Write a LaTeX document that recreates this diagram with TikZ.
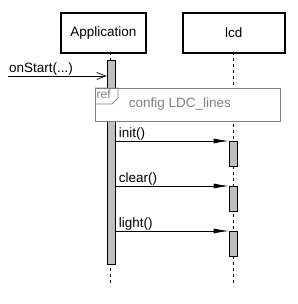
\documentclass[tikz,border=0pt]{standalone}
\usepackage{fontspec}
\setmainfont{Liberation Sans}
\usetikzlibrary{arrows.meta,positioning}

\begin{document}
\begin{tikzpicture}[x=1pt, y=-1pt,
  font=\fontsize{13.5}{15}\selectfont,
  obj/.style={draw, line width=1.7pt, minimum height=40pt, inner sep=0pt, anchor=north west},
  life/.style={dash pattern=on 3pt off 3pt, line width=0.6pt},
  act/.style={draw, fill=black!25, minimum width=8pt, inner sep=0pt, anchor=north, line width=0.7pt},
  msg/.style={-{Latex[length=15pt,width=5pt]}, line width=0.7pt},
  found/.style={-{Straight Barb[length=9pt,width=7pt]}, line width=0.7pt},
  lbl/.style={anchor=south west, inner sep=1pt},
  reframe/.style={draw=black!50, fill=white, line width=0.9pt, inner sep=0pt, anchor=north west}
]
\useasboundingbox (0,0) rectangle (297,304);
% objects
\node[obj, minimum width=85pt] (app) at (60,12) {Application};
\node[obj, minimum width=102pt] (lcd) at (182,12) {lcd};
% lifelines
\coordinate (appTop) at (110,52);
\coordinate (appEnd) at (110,286);
\coordinate (lcdTop) at (233,52);
\coordinate (lcdEnd) at (233,286);
\draw[life] (appTop) -- (appEnd);
\draw[life] (lcdTop) -- (lcdEnd);
% activations
\node[act, minimum height=204pt] (actApp) at (111,60) {};
\node[act, minimum height=25pt] (actInit) at (233,141) {};
\node[act, minimum height=25pt] (actClear) at (233,186) {};
\node[act, minimum height=25pt] (actLight) at (233,231) {};
% incoming message
\coordinate (start) at (8,76);
\draw[found] (start) -- (start -| actApp.west);
\node[lbl] (onStart) at (start) {onStart(...)};
% interaction use
\node[reframe, minimum width=185pt, minimum height=33pt] (ref) at (95,88) {};
\draw[draw=black!50, line width=0.9pt] (ref.north west) -- ++(23,0) -- ++(0,10) -- ++(-6,6) -- ++(-17,0);
\node[anchor=north west, inner sep=1.5pt, text=black!50, font=\fontsize{12}{13}\selectfont] (refTag) at (ref.north west) {ref};
\node[text=black!50] (refText) at (180,104) {config LDC\_lines};
% messages
\draw[msg] (actApp.east |- actInit.north) -- (actInit.north west);
\node[lbl] (initLbl) at (actApp.east |- actInit.north) {\,init()};
\draw[msg] (actApp.east |- actClear.north) -- (actClear.north west);
\node[lbl] (clearLbl) at (actApp.east |- actClear.north) {\,clear()};
\draw[msg] (actApp.east |- actLight.north) -- (actLight.north west);
\node[lbl] (lightLbl) at (actApp.east |- actLight.north) {\,light()};
\end{tikzpicture}
\end{document}
